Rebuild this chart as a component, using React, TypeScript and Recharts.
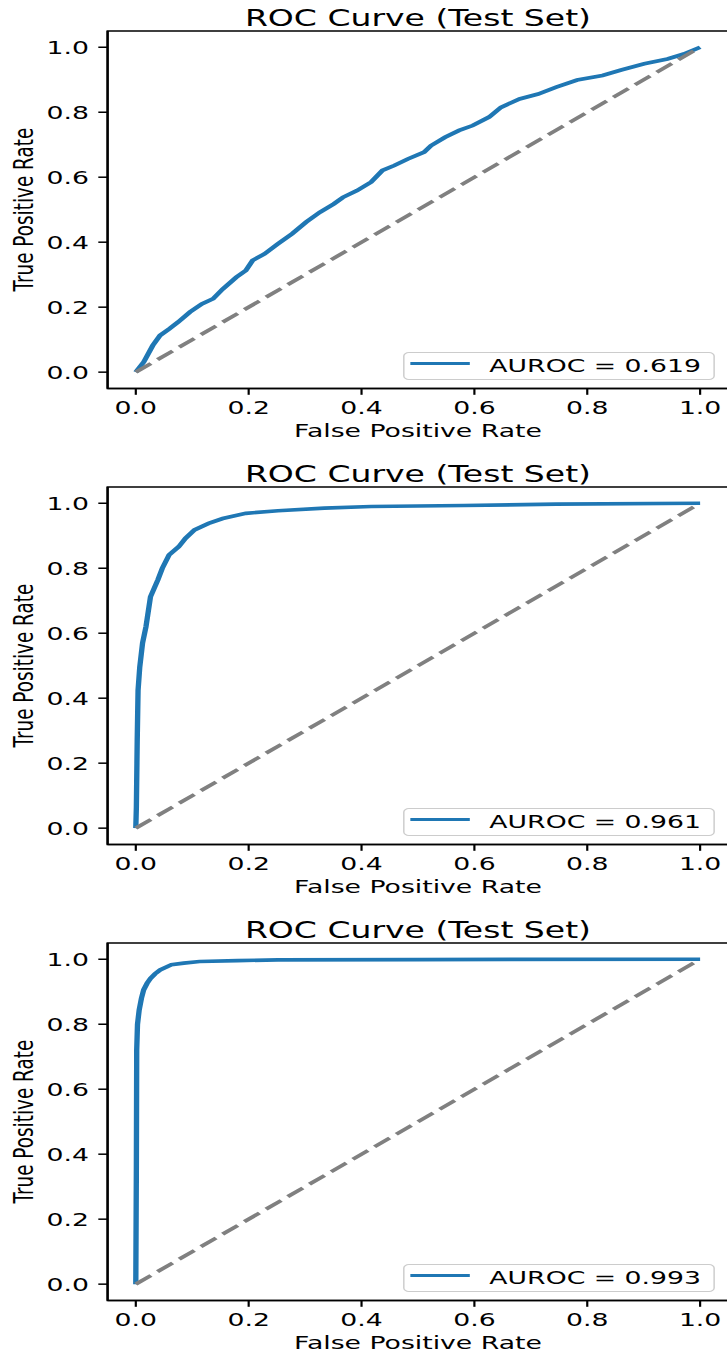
import { LineChart, Line, XAxis, YAxis, ReferenceArea, Legend } from "recharts";

// false positive / true positive rates
const fprA = [0, 0.014, 0.03, 0.043, 0.059, 0.075, 0.096, 0.117, 0.137, 0.154, 0.178, 0.195, 0.207, 0.228, 0.252, 0.277, 0.302, 0.326, 0.351, 0.367, 0.392, 0.417, 0.437, 0.458, 0.482, 0.511, 0.523, 0.548, 0.573, 0.597, 0.626, 0.647, 0.68, 0.713, 0.745, 0.782, 0.827, 0.86, 0.901, 0.942, 0.971, 1];
const tprA = [0, 0.031, 0.082, 0.113, 0.133, 0.154, 0.185, 0.21, 0.226, 0.256, 0.292, 0.313, 0.344, 0.364, 0.395, 0.426, 0.462, 0.492, 0.518, 0.538, 0.559, 0.585, 0.621, 0.636, 0.656, 0.677, 0.697, 0.723, 0.744, 0.759, 0.785, 0.815, 0.841, 0.856, 0.877, 0.899, 0.913, 0.93, 0.949, 0.964, 0.979, 1];

const fprB = [0, 0.001, 0.0025, 0.004, 0.007, 0.012, 0.018, 0.026, 0.033, 0.039, 0.047, 0.059, 0.076, 0.088, 0.104, 0.129, 0.154, 0.195, 0.252, 0.334, 0.417, 0.581, 0.745, 1];
const tprB = [0, 0.065, 0.27, 0.424, 0.496, 0.57, 0.62, 0.712, 0.74, 0.764, 0.8, 0.841, 0.866, 0.892, 0.918, 0.938, 0.953, 0.969, 0.977, 0.985, 0.99, 0.993, 0.997, 1];

const fprC = [0, 0.001, 0.0016, 0.003, 0.006, 0.01, 0.014, 0.02, 0.026, 0.034, 0.043, 0.063, 0.085, 0.113, 0.18, 0.252, 0.5, 1];
const tprC = [0, 0.361, 0.721, 0.8, 0.844, 0.88, 0.906, 0.926, 0.941, 0.955, 0.967, 0.983, 0.988, 0.993, 0.996, 0.998, 0.999, 1];

const chanceFpr = [0, 1];
const chanceTpr = [0, 1];

const aurocs = ["0.619", "0.961", "0.993"];
const ticks = [0, 0.2, 0.4, 0.6, 0.8, 1.0];
const title = "ROC Curve (Test Set)";

const BLUE = "#1f77b4";
const FONT = "DejaVu Sans";
const K = 1.45; // the figure is stretched horizontally
const W = 512;
const H = 456;
const TOP = 31;
const XH = 67.6;
const YW = 74.2;
const PLOT_H = H - TOP - XH;

const zip = (xs: number[], ys: number[]) => xs.map((x, i) => ({ fpr: x, tpr: ys[i] }));

const curves = [zip(fprA, tprA), zip(fprB, tprB), zip(fprC, tprC)];
const chance = zip(chanceFpr, chanceTpr);

const tickStyle = { fill: "#000", fontSize: 18.4, fontFamily: FONT };

function LegendBox({ auroc }: { auroc: string }) {
  return (
    <div style={{ position: "relative", width: "100%", height: "100%", boxSizing: "border-box", border: "1.5px solid #cccccc", borderRadius: 4, background: "rgba(255,255,255,0.8)" }}>
      <div style={{ position: "absolute", left: 4, top: 9.2, width: 41.6, height: 3.7, background: BLUE }} />
      <span style={{ position: "absolute", left: 58.8, top: 4.2, fontSize: 18.4, lineHeight: "18.4px", fontFamily: FONT, color: "#000", whiteSpace: "nowrap" }}>
        AUROC = {auroc}
      </span>
    </div>
  );
}

function RocChart({ idx }: { idx: number }) {
  const plotBottom = TOP + PLOT_H;
  const cx = YW + (W - YW - 9.7) / 2;
  return (
    <LineChart width={W} height={H} margin={{ top: TOP, right: 9.7, bottom: 0, left: 0 }}>
      <XAxis
        type="number"
        dataKey="fpr"
        domain={[-0.05, 1.05]}
        ticks={ticks}
        interval={0}
        allowDataOverflow
        height={XH}
        tickSize={6.4}
        tickMargin={6.4}
        tick={tickStyle}
        tickFormatter={(v: number) => v.toFixed(1)}
        axisLine={{ stroke: "#000", strokeWidth: 1.5 }}
        tickLine={{ stroke: "#000", strokeWidth: 1.5 }}
        label={{
          content: () => (
            <text x={cx} y={plotBottom + 48.3} textAnchor="middle" fontSize={18.4} fontFamily={FONT} fill="#000">
              False Positive Rate
            </text>
          ),
        }}
      />
      <YAxis
        type="number"
        domain={[-0.05, 1.05]}
        ticks={ticks}
        interval={0}
        allowDataOverflow
        width={YW}
        tickSize={6.4}
        tickMargin={6.4}
        tick={tickStyle}
        tickFormatter={(v: number) => v.toFixed(1)}
        axisLine={{ stroke: "#000", strokeWidth: 1.5 }}
        tickLine={{ stroke: "#000", strokeWidth: 1.5 }}
        label={{
          content: () => (
            <text x={23} y={TOP + PLOT_H / 2} transform={`rotate(-90 23 ${TOP + PLOT_H / 2})`} textAnchor="middle" fontSize={18.4} fontFamily={FONT} fill="#000">
              True Positive Rate
            </text>
          ),
        }}
      />
      <ReferenceArea
        x1={-0.05}
        x2={1.05}
        y1={-0.05}
        y2={1.05}
        fill="none"
        stroke="#000"
        strokeWidth={1.5}
        ifOverflow="visible"
        label={{
          content: () => (
            <text x={cx} y={TOP - 5} textAnchor="middle" fontSize={22.8} fontFamily={FONT} fill="#000">
              {title}
            </text>
          ),
        }}
      />
      <Line
        data={curves[idx]}
        dataKey="tpr"
        name={`AUROC = ${aurocs[idx]}`}
        type="linear"
        stroke={BLUE}
        strokeWidth={3.7}
        dot={false}
        isAnimationActive={false}
      />
      <Line
        data={chance}
        dataKey="tpr"
        type="linear"
        stroke="#808080"
        strokeWidth={3.4}
        strokeDasharray="13.6 5.9"
        dot={false}
        legendType="none"
        isAnimationActive={false}
      />
      <Legend
        layout="vertical"
        align="center"
        verticalAlign="middle"
        content={() => <LegendBox auroc={aurocs[idx]} />}
        wrapperStyle={{ position: "absolute", left: 277.7, top: 351.5, width: 215.4, height: 28, margin: 0 }}
      />
    </LineChart>
  );
}

export default function App() {
  return (
    <div style={{ position: "absolute", left: 0, top: 0, width: 727, height: 1353, overflow: "hidden", background: "#fff" }}>
      {[0, 1, 2].map((i) => (
        <div
          key={i}
          style={{ position: "absolute", left: 0, top: i * 456, width: W, height: H, transform: `scaleX(${K})`, transformOrigin: "0 0" }}
        >
          <RocChart idx={i} />
        </div>
      ))}
    </div>
  );
}
